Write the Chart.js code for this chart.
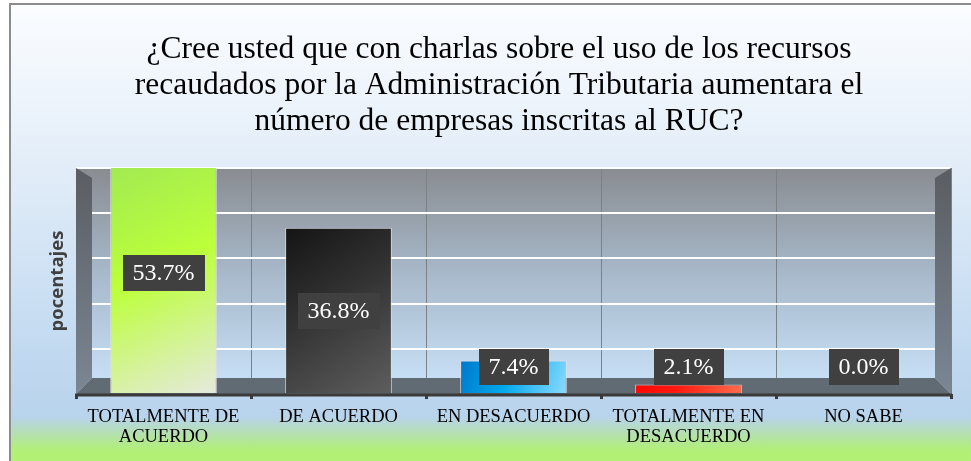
<!DOCTYPE html>
<html lang="es">
<head>
<meta charset="utf-8">
<script src="https://cdn.jsdelivr.net/npm/chart.js@4.4.1/dist/chart.umd.min.js"></script>
<style>
  html, body { margin: 0; padding: 0; background: #fff; }
  #wrap { position: relative; width: 971px; height: 461px; overflow: hidden; }
  #frame {
    position: absolute; left: 9px; top: 3px; width: 980px; height: 470px;
    border-left: 2px solid #8c8c8c; border-top: 2px solid #8c8c8c;
    background: linear-gradient(to bottom, #fbfdff 0px, #e4eef9 150px, #c4dbf1 330px, #b8d3ec 412px, #b4e3a4 432px, #b2ef78 445px, #b4f270 470px);
  }
  #chart { position: absolute; left: 0; top: 0; }
</style>
</head>
<body>
<div id="wrap">
  <div id="frame"></div>
  <canvas id="chart" width="971" height="461"></canvas>
</div>
<script>
// ==============================
// DATOS
// ==============================
const TITULO = [
  "¿Cree usted que con charlas sobre el uso de los recursos",
  "recaudados por la Administración Tributaria aumentara el",
  "número de empresas inscritas al RUC?"
];
const CATEGORIAS = [
  ["TOTALMENTE DE", "ACUERDO"],
  "DE ACUERDO",
  "EN DESACUERDO",
  ["TOTALMENTE EN", "DESACUERDO"],
  "NO SABE"
];
const PORCENTAJES = [53.7, 36.8, 7.4, 2.1, 0.0];
const EJE_Y_MAX = 50;
const EJE_Y_PASO = 10;

// colores de cada barra (inicio, medio, fin del degradado)
const COLORES = [
  ["#a2ea52", "#bcff3a", "#e6e9e0"],
  ["#141414", "#333333", "#5e5e5e"],
  ["#0074c8", "#00a8ec", "#8fdcff"],
  ["#ff0000", "#ff1a10", "#ff7050"],
  ["#888888", "#999999", "#aaaaaa"]
];

const SERIF = "'Liberation Serif', 'Times New Roman', serif";

// ==============================
// PLUGIN: fondo 3D del área
// ==============================
const fondo3D = {
  id: "fondo3D",
  beforeDraw(chart){
    const { ctx, chartArea: a } = chart;
    const g = ctx.createLinearGradient(0, a.top, 0, a.bottom);
    g.addColorStop(0, "#898c91");
    g.addColorStop(0.45, "#a6b7c8");
    g.addColorStop(1, "#cbe4fb");
    ctx.save();
    ctx.fillStyle = g;
    ctx.fillRect(a.left, a.top, a.right - a.left, a.bottom - a.top);
    ctx.restore();
  },
  beforeDatasetsDraw(chart){
    const { ctx, chartArea: a } = chart;
    const d = 16;
    ctx.save();
    // paredes
    const gw = ctx.createLinearGradient(0, a.top, 0, a.bottom);
    gw.addColorStop(0, "#5a5d62");
    gw.addColorStop(1, "#7b8794");
    ctx.fillStyle = gw;
    ctx.beginPath();
    ctx.moveTo(a.left, a.top); ctx.lineTo(a.left + d, a.top + 10);
    ctx.lineTo(a.left + d, a.bottom - d); ctx.lineTo(a.left, a.bottom);
    ctx.closePath(); ctx.fill();
    ctx.beginPath();
    ctx.moveTo(a.right, a.top); ctx.lineTo(a.right - d, a.top + 10);
    ctx.lineTo(a.right - d, a.bottom - d); ctx.lineTo(a.right, a.bottom);
    ctx.closePath(); ctx.fill();
    // piso
    ctx.fillStyle = "#616b74";
    ctx.beginPath();
    ctx.moveTo(a.left, a.bottom); ctx.lineTo(a.left + d, a.bottom - d);
    ctx.lineTo(a.right - d, a.bottom - d); ctx.lineTo(a.right, a.bottom);
    ctx.closePath(); ctx.fill();
    // eje
    ctx.strokeStyle = "#3a3a3a";
    ctx.lineWidth = 3;
    ctx.beginPath();
    ctx.moveTo(a.left - 1, a.bottom + 1); ctx.lineTo(a.right + 1, a.bottom + 1);
    ctx.stroke();
    ctx.restore();
  }
};

// ==============================
// PLUGIN: etiquetas de datos
// ==============================
const etiquetas = {
  id: "etiquetas",
  afterDatasetsDraw(chart){
    const { ctx, scales } = chart;
    const meta = chart.getDatasetMeta(0);
    const base = scales.y.getPixelForValue(0);
    ctx.save();
    ctx.font = `24px ${SERIF}`;
    ctx.textAlign = "center";
    ctx.textBaseline = "middle";
    meta.data.forEach((bar, i) => {
      const v = PORCENTAJES[i];
      const txt = v.toFixed(1) + "%";
      const top = scales.y.getPixelForValue(v);
      const cy = Math.min((top + base) / 2, base - 27);
      const w = ctx.measureText(txt).width + 20;
      const h = 36;
      ctx.fillStyle = "#404040";
      ctx.fillRect(Math.round(bar.x - w / 2), Math.round(cy - h / 2), Math.round(w), h);
      ctx.fillStyle = "#ffffff";
      ctx.fillText(txt, bar.x, cy + 1);
    });
    ctx.restore();
  }
};

function colorBarra(c){
  const chart = c.chart;
  const col = COLORES[c.dataIndex];
  if (!chart.chartArea) return col[1];
  const x = chart.scales.x.getPixelForValue(c.dataIndex);
  const yb = chart.scales.y.getPixelForValue(0);
  const yt = chart.scales.y.getPixelForValue(Math.min(PORCENTAJES[c.dataIndex], EJE_Y_MAX));
  const g = chart.ctx.createLinearGradient(x - 54, Math.min(yt, yb - 40), x + 54, yb);
  g.addColorStop(0, col[0]);
  g.addColorStop(0.45, col[1]);
  g.addColorStop(1, col[2]);
  return g;
}

new Chart(document.getElementById("chart"), {
  type: "bar",
  data: {
    labels: CATEGORIAS,
    datasets: [{
      data: PORCENTAJES,
      backgroundColor: colorBarra,
      borderColor: "rgba(225,225,225,0.8)",
      borderWidth: 1,
      borderSkipped: "bottom",
      categoryPercentage: 1,
      barPercentage: 0.61,
      clip: 0
    }]
  },
  options: {
    responsive: false,
    animation: false,
    layout: { padding: { left: 47, right: 20, top: 0, bottom: 6 } },
    plugins: {
      legend: { display: false },
      tooltip: { enabled: false },
      title: {
        display: true,
        text: TITULO,
        color: "#000",
        font: { family: SERIF, size: 31.5, weight: "normal", lineHeight: 1.143 },
        padding: { top: 32, bottom: 28 }
      }
    },
    scales: {
      x: {
        offset: true,
        border: { display: false },
        grid: {
          offset: true,
          color: "#7c8186",
          lineWidth: 1,
          tickColor: "#3a3a3a",
          tickWidth: 3,
          tickLength: 5
        },
        ticks: {
          color: "#000",
          padding: 8,
          maxRotation: 0,
          autoSkip: false,
          font: { family: SERIF, size: 18.5, lineHeight: 1.08 }
        }
      },
      y: {
        min: 0,
        max: EJE_Y_MAX,
        border: { display: false },
        grid: { color: "#ffffff", lineWidth: 2, drawTicks: false },
        ticks: { display: false, stepSize: EJE_Y_PASO },
        title: {
          display: true,
          text: "pocentajes",
          color: "#404040",
          padding: 0,
          font: { family: "'Open Sans', sans-serif", size: 18.5, weight: "bold", lineHeight: 1.2 }
        },
        afterFit(s){ s.width = 29; }
      }
    }
  },
  plugins: [fondo3D, etiquetas]
});
</script>
</body>
</html>
